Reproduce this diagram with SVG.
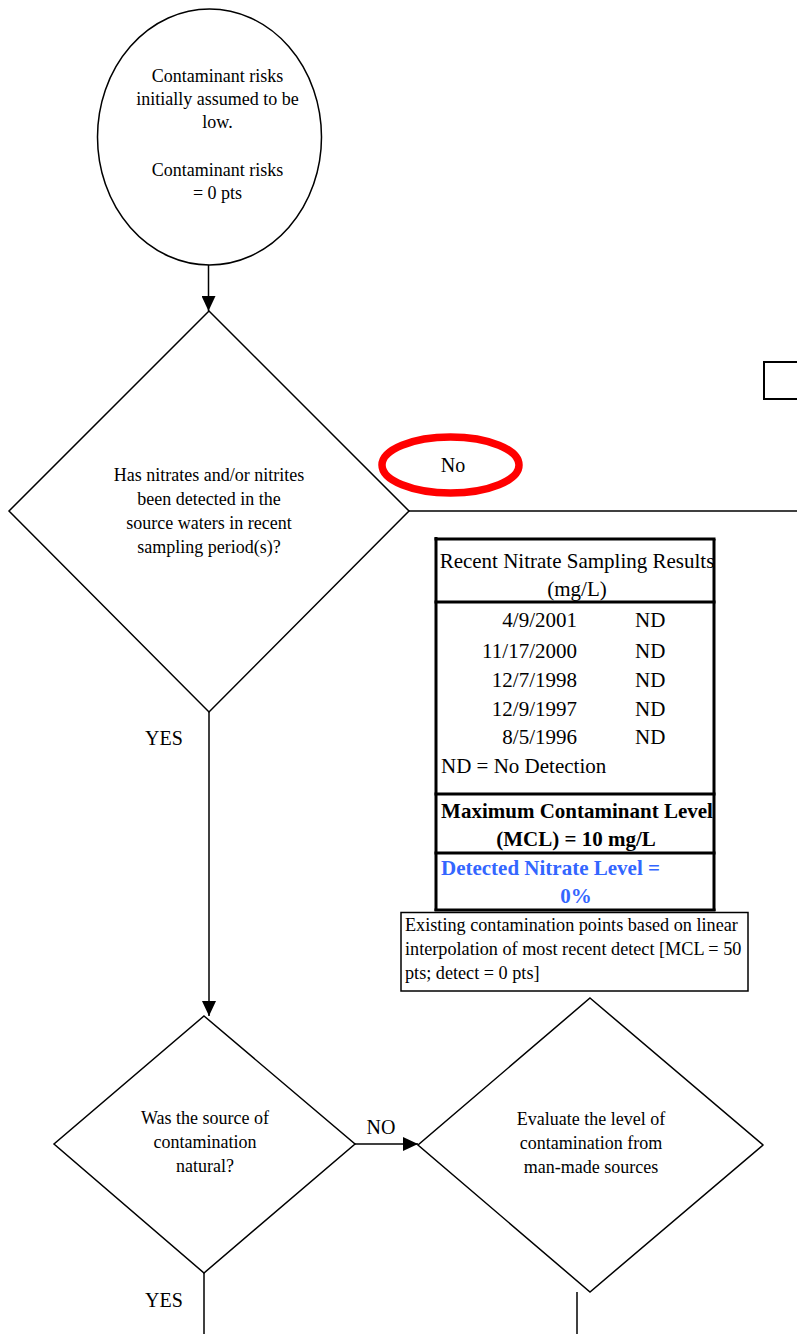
<svg xmlns="http://www.w3.org/2000/svg" width="797" height="1334" viewBox="0 0 797 1334">
<style>
text{font-family:"Liberation Serif","Times New Roman",serif;fill:#000}
.s18{font-size:18px}
.s20{font-size:20px}
.s21{font-size:21px}
.c{text-anchor:middle}
.e{text-anchor:end}
.b{font-weight:bold}
.blue{fill:#3366FF}
.shape{fill:#fff;stroke:#000;stroke-width:1.5}
.conn{fill:none;stroke:#000;stroke-width:1.5}
.tbl{fill:none;stroke:#000;stroke-width:3}
</style>
<defs>
<marker id="arr" viewBox="0 0 15 14" refX="15" refY="7" markerWidth="15" markerHeight="14" markerUnits="userSpaceOnUse" orient="auto">
<path d="M0,0 L15,7 L0,14 z" fill="#000"/>
</marker>
<clipPath id="clipc"><rect x="0" y="0" width="300" height="300"/></clipPath>
</defs>

<g id="connectors">
<line class="conn" x1="208.5" y1="265" x2="208.5" y2="311" marker-end="url(#arr)"/>
<line class="conn" x1="409" y1="511" x2="797" y2="511"/>
<line class="conn" x1="209" y1="712" x2="209" y2="1016" marker-end="url(#arr)"/>
<line class="conn" x1="355" y1="1144" x2="418" y2="1144" marker-end="url(#arr)"/>
<line class="conn" x1="204" y1="1273" x2="204" y2="1334"/>
<line class="conn" x1="577" y1="1292" x2="577" y2="1334"/>
</g>

<g id="start">
<ellipse class="shape" cx="209.5" cy="137" rx="112" ry="128"/>
<text class="s18 c" x="217.5" y="82">Contaminant risks</text>
<text class="s18 c" x="217.5" y="105" clip-path="url(#clipc)">initially assumed to be</text>
<text class="s18 c" x="217.5" y="128">low.</text>
<text class="s18 c" x="217.5" y="176">Contaminant risks</text>
<text class="s18 c" x="217.5" y="199">= 0 pts</text>
</g>

<g id="decision1">
<polygon class="shape" points="209,311 409,511 209,712 9,511"/>
<text class="s18 c" x="209" y="481">Has nitrates and/or nitrites</text>
<text class="s18 c" x="209" y="505">been detected in the</text>
<text class="s18 c" x="209" y="529">source waters in recent</text>
<text class="s18 c" x="209" y="553">sampling period(s)?</text>
</g>

<g id="label-no">
<ellipse cx="450.5" cy="465" rx="68.5" ry="28" fill="none" stroke="#FF0000" stroke-width="7.5"/>
<text class="s20 c" x="453" y="472">No</text>
</g>

<g id="box-topright">
<rect x="764" y="362" width="40" height="37" fill="#fff" stroke="#000" stroke-width="2"/>
</g>

<g id="label-yes1">
<text class="s20 c" x="164" y="745">YES</text>
</g>

<g id="table">
<rect x="436" y="539" width="278" height="371" fill="#fff" stroke="none"/>
<line class="tbl" x1="436" y1="537" x2="436" y2="911"/>
<line class="tbl" x1="714" y1="539" x2="714" y2="911"/>
<line class="tbl" x1="434.5" y1="539" x2="715.5" y2="539"/>
<line class="tbl" x1="434.5" y1="602" x2="715.5" y2="602"/>
<line class="tbl" x1="434.5" y1="794" x2="715.5" y2="794"/>
<line class="tbl" x1="434.5" y1="853" x2="715.5" y2="853"/>
<line class="tbl" x1="434.5" y1="910" x2="715.5" y2="910"/>
<text class="s21 c" x="577" y="568">Recent Nitrate Sampling Results</text>
<text class="s21 c" x="577" y="596">(mg/L)</text>
<text class="s21 e" x="577" y="627">4/9/2001</text>
<text class="s21" x="635" y="627">ND</text>
<text class="s21 e" x="577" y="658">11/17/2000</text>
<text class="s21" x="635" y="658">ND</text>
<text class="s21 e" x="577" y="687">12/7/1998</text>
<text class="s21" x="635" y="687">ND</text>
<text class="s21 e" x="577" y="716">12/9/1997</text>
<text class="s21" x="635" y="716">ND</text>
<text class="s21 e" x="577" y="744">8/5/1996</text>
<text class="s21" x="635" y="744">ND</text>
<text class="s21" x="441" y="773">ND = No Detection</text>
<text class="s21 c b" x="577" y="818">Maximum Contaminant Level</text>
<text class="s21 c b" x="576" y="846">(MCL) = 10 mg/L</text>
<text class="s21 b blue" x="441" y="875">Detected Nitrate Level =</text>
<text class="s21 c b blue" x="576" y="903">0%</text>
</g>

<g id="note">
<rect x="401" y="912.5" width="347" height="78.5" fill="#fff" stroke="#000" stroke-width="1.5"/>
<text x="405" y="931" style="font-size:18.2px">Existing contamination points based on linear</text>
<text x="405" y="955" style="font-size:18.2px">interpolation of most recent detect [MCL = 50</text>
<text x="405" y="979" style="font-size:18.2px">pts; detect = 0 pts]</text>
</g>

<g id="decision2">
<polygon class="shape" points="204,1016 355,1144 204,1273 54,1144"/>
<text class="s18 c" x="205" y="1124">Was the source of</text>
<text class="s18 c" x="205" y="1148">contamination</text>
<text class="s18 c" x="205" y="1172">natural?</text>
</g>

<g id="label-no2">
<text class="s20 c" x="381" y="1134">NO</text>
</g>

<g id="decision3">
<polygon class="shape" points="590,998 763,1145 590,1292 418,1145"/>
<text class="s18 c" x="591" y="1125">Evaluate the level of</text>
<text class="s18 c" x="591" y="1149">contamination from</text>
<text class="s18 c" x="591" y="1173">man-made sources</text>
</g>

<g id="label-yes2">
<text class="s20 c" x="164" y="1307">YES</text>
</g>
</svg>
